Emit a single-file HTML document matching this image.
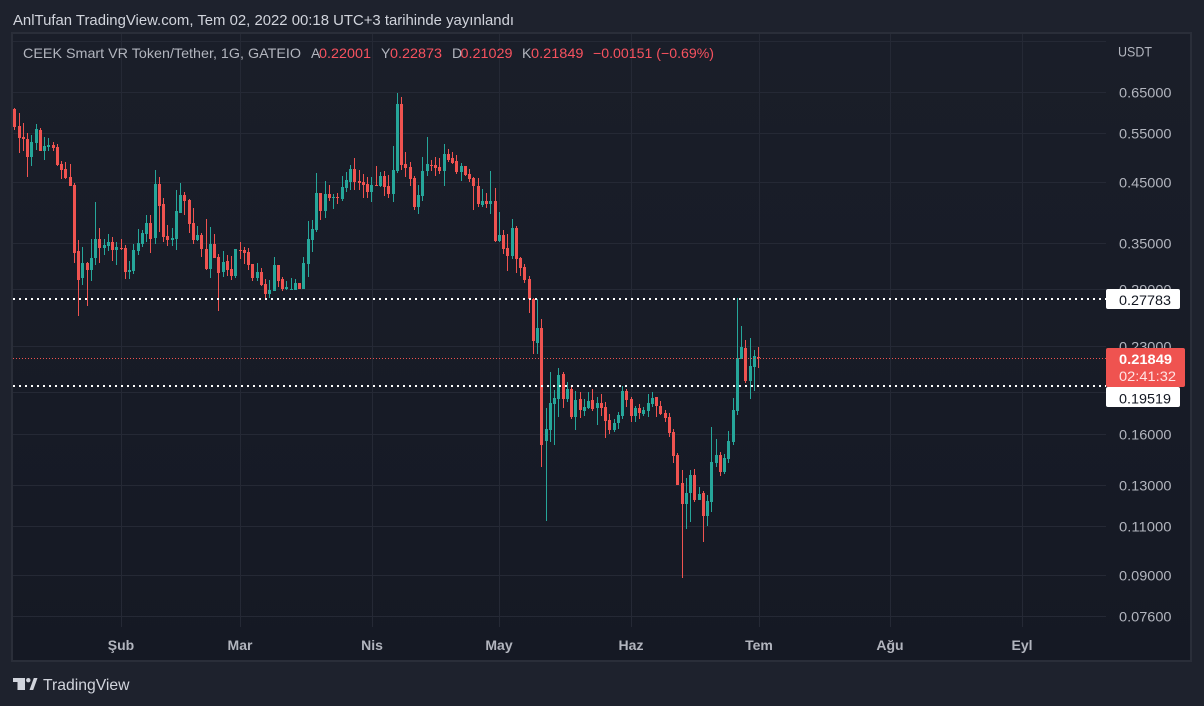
<!DOCTYPE html>
<html>
<head>
<meta charset="utf-8">
<style>
html,body{margin:0;padding:0;background:#1e222d;}
body{width:1204px;height:706px;overflow:hidden;}
svg{display:block;}
text{font-family:"Liberation Sans",Arial,sans-serif;}
</style>
</head>
<body>
<svg width="1204" height="706" viewBox="0 0 1204 706" xmlns="http://www.w3.org/2000/svg">
<defs>
<linearGradient id="bg" x1="0" y1="0" x2="0" y2="1">
<stop offset="0" stop-color="#1a1e29"/>
<stop offset="1" stop-color="#151924"/>
</linearGradient>
</defs>
<rect x="0" y="0" width="1204" height="706" fill="#1e222d"/>
<text x="13" y="25" font-size="14.5" fill="#d1d4dc" textLength="501" lengthAdjust="spacingAndGlyphs">AnlTufan TradingView.com, Tem 02, 2022 00:18 UTC+3 tarihinde yayınlandı</text>

<!-- chart frame -->
<rect x="11" y="32" width="1181" height="630" fill="#2a2e39"/>
<rect x="13" y="34" width="1177" height="626" fill="url(#bg)"/>

<!-- grid -->
<g stroke="#252935" stroke-width="1">
<path d="M13 41.5H1106M13 92.5H1106M13 133.5H1106M13 182.5H1106M13 243.5H1106M13 289.5H1106M13 346.5H1106M13 392.5H1106M13 434.5H1106M13 485.5H1106M13 526.5H1106M13 575.5H1106M13 616.5H1106"/>
<path d="M121.5 34V627M240.5 34V627M372.5 34V627M499.5 34V627M631.5 34V627M759.5 34V627M890.5 34V627M1022.5 34V627"/>
</g>

<!-- legend -->
<text y="58" font-size="14">
<tspan x="23" fill="#b2b5be" textLength="278" lengthAdjust="spacingAndGlyphs">CEEK Smart VR Token/Tether, 1G, GATEIO</tspan>
</text>
<text y="58" font-size="14" fill="#b2b5be"><tspan x="311">A</tspan><tspan x="381">Y</tspan><tspan x="452">D</tspan><tspan x="522">K</tspan></text>
<g font-size="14" fill="#f7525f">
<text x="319" y="58" textLength="52" lengthAdjust="spacingAndGlyphs">0.22001</text>
<text x="390" y="58" textLength="52" lengthAdjust="spacingAndGlyphs">0.22873</text>
<text x="460.5" y="58" textLength="52" lengthAdjust="spacingAndGlyphs">0.21029</text>
<text x="531" y="58" textLength="52.5" lengthAdjust="spacingAndGlyphs">0.21849</text>
<text x="593" y="58" textLength="121" lengthAdjust="spacingAndGlyphs">−0.00151 (−0.69%)</text>
</g>

<!-- candles green -->
<path fill="#26a69a" d="M31 135h1V166h-1zM30 142h3V157h-3zM36 124h1V150h-1zM35 129h3V143h-3zM44 137h1V160h-1zM43 146h3V151h-3zM48 138h1V151h-1zM47 145h3V147h-3zM82 247h1V285h-1zM81 263h3V278h-3zM91 239h1V281h-1zM90 258h3V270h-3zM95 202h1V265h-1zM94 239h3V258h-3zM104 239h1V255h-1zM103 245h3V248h-3zM108 234h1V251h-1zM107 242h3V246h-3zM116 242h1V265h-1zM115 247h3V250h-3zM129 261h1V279h-1zM128 270h3V272h-3zM133 244h1V274h-1zM132 250h3V271h-3zM138 229h1V255h-1zM137 243h3V251h-3zM142 230h1V247h-1zM141 233h3V244h-3zM146 215h1V242h-1zM145 223h3V234h-3zM155 170h1V244h-1zM154 184h3V238h-3zM172 228h1V246h-1zM171 238h3V240h-3zM176 190h1V250h-1zM175 211h3V239h-3zM180 183h1V213h-1zM179 195h3V213h-3zM197 226h1V241h-1zM196 235h3V240h-3zM210 227h1V278h-1zM209 244h3V269h-3zM223 251h1V277h-1zM222 262h3V272h-3zM235 249h1V278h-1zM234 249h3V276h-3zM257 263h1V281h-1zM256 272h3V278h-3zM269 280h1V298h-1zM268 290h3V294h-3zM274 257h1V291h-1zM273 265h3V291h-3zM286 281h1V290h-1zM285 287h3V289h-3zM291 278h1V290h-1zM290 289h3V290h-3zM295 279h1V290h-1zM294 283h3V290h-3zM303 257h1V289h-1zM302 263h3V289h-3zM308 221h1V277h-1zM307 239h3V264h-3zM312 220h1V252h-1zM311 229h3V240h-3zM316 173h1V232h-1zM315 193h3V230h-3zM325 181h1V218h-1zM324 194h3V211h-3zM333 194h1V209h-1zM332 197h3V198h-3zM342 176h1V201h-1zM341 187h3V199h-3zM346 172h1V192h-1zM345 180h3V188h-3zM350 165h1V190h-1zM349 169h3V182h-3zM371 177h1V202h-1zM370 185h3V192h-3zM380 172h1V187h-1zM379 176h3V186h-3zM393 146h1V202h-1zM392 170h3V194h-3zM397 93h1V173h-1zM396 104h3V171h-3zM418 185h1V214h-1zM417 195h3V207h-3zM422 157h1V201h-1zM421 171h3V196h-3zM427 137h1V176h-1zM426 164h3V171h-3zM444 144h1V186h-1zM443 154h3V171h-3zM461 163h1V181h-1zM460 166h3V172h-3zM482 189h1V207h-1zM481 201h3V205h-3zM490 171h1V214h-1zM489 201h3V204h-3zM499 212h1V242h-1zM498 235h3V241h-3zM512 219h1V259h-1zM511 228h3V256h-3zM537 299h1V354h-1zM536 328h3V343h-3zM546 408h1V521h-1zM545 429h3V441h-3zM550 372h1V442h-1zM549 403h3V430h-3zM554 390h1V445h-1zM553 398h3V404h-3zM558 368h1V417h-1zM557 375h3V399h-3zM567 382h1V402h-1zM566 389h3V399h-3zM575 391h1V430h-1zM574 400h3V417h-3zM584 399h1V416h-1zM583 407h3V411h-3zM588 392h1V409h-1zM587 401h3V408h-3zM597 397h1V425h-1zM596 403h3V408h-3zM614 419h1V432h-1zM613 423h3V430h-3zM618 412h1V429h-1zM617 415h3V423h-3zM622 386h1V419h-1zM621 391h3V416h-3zM635 406h1V422h-1zM634 408h3V416h-3zM643 407h1V416h-1zM642 410h3V414h-3zM648 394h1V417h-1zM647 403h3V411h-3zM652 392h1V407h-1zM651 398h3V404h-3zM686 478h1V529h-1zM685 493h3V504h-3zM690 470h1V522h-1zM689 475h3V493h-3zM699 487h1V500h-1zM698 494h3V500h-3zM707 495h1V526h-1zM706 501h3V516h-3zM711 427h1V512h-1zM710 462h3V502h-3zM716 439h1V467h-1zM715 455h3V463h-3zM724 454h1V474h-1zM723 458h3V472h-3zM728 431h1V463h-1zM727 441h3V459h-3zM733 398h1V445h-1zM732 410h3V442h-3zM737 298h1V415h-1zM736 358h3V411h-3zM741 326h1V359h-1zM740 347h3V359h-3zM750 338h1V399h-1zM749 366h3V381h-3zM754 350h1V391h-1zM753 356h3V367h-3z"/>

<!-- candles red -->
<path fill="#ef5350" d="M14 108h1V130h-1zM13 109h3V127h-3zM19 113h1V153h-1zM18 126h3V138h-3zM23 123h1V151h-1zM22 137h3V139h-3zM27 133h1V177h-1zM26 139h3V157h-3zM40 128h1V151h-1zM39 130h3V151h-3zM53 142h1V151h-1zM52 145h3V148h-3zM57 144h1V166h-1zM56 147h3V165h-3zM61 161h1V179h-1zM60 164h3V170h-3zM65 162h1V179h-1zM64 169h3V178h-3zM70 164h1V186h-1zM69 177h3V186h-3zM74 183h1V263h-1zM73 185h3V253h-3zM78 240h1V316h-1zM77 251h3V280h-3zM87 262h1V306h-1zM86 263h3V270h-3zM99 228h1V263h-1zM98 239h3V248h-3zM112 237h1V261h-1zM111 242h3V250h-3zM121 239h1V250h-1zM120 248h3V249h-3zM125 245h1V279h-1zM124 248h3V272h-3zM150 215h1V253h-1zM149 223h3V239h-3zM159 177h1V232h-1zM158 184h3V206h-3zM163 198h1V242h-1zM162 204h3V237h-3zM167 225h1V246h-1zM166 236h3V240h-3zM184 192h1V215h-1zM183 195h3V201h-3zM189 199h1V233h-1zM188 200h3V224h-3zM193 208h1V244h-1zM192 223h3V240h-3zM201 233h1V257h-1zM200 235h3V249h-3zM206 219h1V270h-1zM205 249h3V269h-3zM214 234h1V258h-1zM213 244h3V258h-3zM218 254h1V311h-1zM217 257h3V273h-3zM227 255h1V276h-1zM226 261h3V270h-3zM231 256h1V280h-1zM230 269h3V276h-3zM240 242h1V259h-1zM239 250h3V251h-3zM244 247h1V264h-1zM243 250h3V253h-3zM248 248h1V270h-1zM247 252h3V265h-3zM252 264h1V281h-1zM251 264h3V278h-3zM261 268h1V286h-1zM260 272h3V285h-3zM265 279h1V298h-1zM264 284h3V294h-3zM278 265h1V287h-1zM277 265h3V281h-3zM282 277h1V291h-1zM281 279h3V289h-3zM299 283h1V289h-1zM298 283h3V289h-3zM320 193h1V220h-1zM319 193h3V211h-3zM329 185h1V201h-1zM328 194h3V198h-3zM337 193h1V204h-1zM336 197h3V198h-3zM354 158h1V190h-1zM353 169h3V182h-3zM359 170h1V190h-1zM358 181h3V183h-3zM363 174h1V198h-1zM362 182h3V185h-3zM367 177h1V198h-1zM366 184h3V192h-3zM376 166h1V186h-1zM375 185h3V186h-3zM384 171h1V196h-1zM383 176h3V187h-3zM388 175h1V198h-1zM387 186h3V194h-3zM401 97h1V170h-1zM400 104h3V165h-3zM405 152h1V177h-1zM404 164h3V168h-3zM410 162h1V186h-1zM409 167h3V179h-3zM414 176h1V210h-1zM413 178h3V207h-3zM431 160h1V171h-1zM430 165h3V166h-3zM435 157h1V176h-1zM434 165h3V168h-3zM439 158h1V174h-1zM438 167h3V171h-3zM448 149h1V162h-1zM447 154h3V160h-3zM452 152h1V164h-1zM451 158h3V163h-3zM456 155h1V174h-1zM455 161h3V172h-3zM465 166h1V176h-1zM464 166h3V175h-3zM469 169h1V182h-1zM468 174h3V179h-3zM473 177h1V210h-1zM472 178h3V186h-3zM478 178h1V207h-1zM477 186h3V204h-3zM486 193h1V208h-1zM485 201h3V204h-3zM495 188h1V242h-1zM494 201h3V241h-3zM503 230h1V254h-1zM502 235h3V249h-3zM507 234h1V271h-1zM506 248h3V256h-3zM516 226h1V273h-1zM515 228h3V259h-3zM520 257h1V276h-1zM519 258h3V268h-3zM524 264h1V283h-1zM523 267h3V280h-3zM529 276h1V313h-1zM528 279h3V299h-3zM533 298h1V354h-1zM532 299h3V341h-3zM541 319h1V467h-1zM540 328h3V445h-3zM563 372h1V408h-1zM562 374h3V399h-3zM571 386h1V419h-1zM570 389h3V417h-3zM580 392h1V418h-1zM579 399h3V410h-3zM592 389h1V411h-1zM591 400h3V409h-3zM601 394h1V416h-1zM600 403h3V408h-3zM605 402h1V438h-1zM604 407h3V421h-3zM609 414h1V434h-1zM608 420h3V430h-3zM626 389h1V407h-1zM625 391h3V400h-3zM631 397h1V422h-1zM630 399h3V416h-3zM639 404h1V419h-1zM638 408h3V413h-3zM656 397h1V417h-1zM655 397h3V406h-3zM660 401h1V415h-1zM659 406h3V414h-3zM665 410h1V422h-1zM664 413h3V418h-3zM669 413h1V437h-1zM668 417h3V433h-3zM673 429h1V463h-1zM672 432h3V456h-3zM677 453h1V485h-1zM676 455h3V485h-3zM682 470h1V578h-1zM681 483h3V504h-3zM694 469h1V502h-1zM693 475h3V500h-3zM703 491h1V542h-1zM702 493h3V516h-3zM720 452h1V476h-1zM719 455h3V472h-3zM745 340h1V383h-1zM744 348h3V381h-3zM758 347h1V368h-1zM757 357h3V358h-3z"/>

<!-- horizontal lines -->
<path d="M13 299H1106M13 386H1106" stroke="#ffffff" stroke-width="2" stroke-dasharray="2 4"/>
<path d="M13 358.5H1106" stroke="#ef5350" stroke-width="1" stroke-dasharray="1 2"/>

<!-- price scale -->
<g font-size="14" fill="#b2b5be">
<text x="1118" y="56.5" textLength="34" lengthAdjust="spacingAndGlyphs">USDT</text>
<text x="1119" y="97.5" textLength="52.5" lengthAdjust="spacingAndGlyphs">0.65000</text>
<text x="1119" y="138.5" textLength="52.5" lengthAdjust="spacingAndGlyphs">0.55000</text>
<text x="1119" y="187.5" textLength="52.5" lengthAdjust="spacingAndGlyphs">0.45000</text>
<text x="1119" y="248.5" textLength="52.5" lengthAdjust="spacingAndGlyphs">0.35000</text>
<text x="1119" y="294.5" textLength="52.5" lengthAdjust="spacingAndGlyphs">0.29000</text>
<text x="1119" y="351.5" textLength="52.5" lengthAdjust="spacingAndGlyphs">0.23000</text>
<text x="1119" y="439.5" textLength="52.5" lengthAdjust="spacingAndGlyphs">0.16000</text>
<text x="1119" y="490.5" textLength="52.5" lengthAdjust="spacingAndGlyphs">0.13000</text>
<text x="1119" y="531.5" textLength="52.5" lengthAdjust="spacingAndGlyphs">0.11000</text>
<text x="1119" y="580.5" textLength="52.5" lengthAdjust="spacingAndGlyphs">0.09000</text>
<text x="1119" y="621.5" textLength="52.5" lengthAdjust="spacingAndGlyphs">0.07600</text>
</g>

<!-- price labels -->
<rect x="1106" y="289" width="74" height="20" rx="2" fill="#ffffff"/>
<text x="1119" y="305" font-size="14" fill="#131722" textLength="52" lengthAdjust="spacingAndGlyphs">0.27783</text>
<rect x="1106" y="387" width="74" height="20" rx="2" fill="#ffffff"/>
<text x="1119" y="403.5" font-size="14" fill="#131722" textLength="52" lengthAdjust="spacingAndGlyphs">0.19519</text>
<rect x="1106" y="348" width="79" height="39" rx="2" fill="#ef5350"/>
<text x="1119" y="364" font-size="14" font-weight="bold" fill="#ffffff" textLength="53" lengthAdjust="spacingAndGlyphs">0.21849</text>
<text x="1119" y="381" font-size="14" fill="#ffe4e4" textLength="57" lengthAdjust="spacingAndGlyphs">02:41:32</text>

<!-- time axis -->
<g font-size="14" font-weight="bold" fill="#b2b5be" text-anchor="middle">
<text x="121" y="650">Şub</text>
<text x="240" y="650">Mar</text>
<text x="372" y="650">Nis</text>
<text x="499" y="650">May</text>
<text x="631" y="650">Haz</text>
<text x="759" y="650">Tem</text>
<text x="890" y="650">Ağu</text>
<text x="1022" y="650">Eyl</text>
</g>

<!-- footer logo -->
<g fill="#d1d4dc">
<rect x="13" y="678" width="12" height="4"/>
<rect x="17.5" y="678" width="7.5" height="12"/>
<circle cx="28.3" cy="680.2" r="2.2"/>
<polygon points="29.5,690 33.8,678 37.5,678 33.2,690"/>
</g>
<text x="43" y="690" font-size="16" fill="#d1d4dc" textLength="86.5" lengthAdjust="spacingAndGlyphs">TradingView</text>
</svg>
</body>
</html>
